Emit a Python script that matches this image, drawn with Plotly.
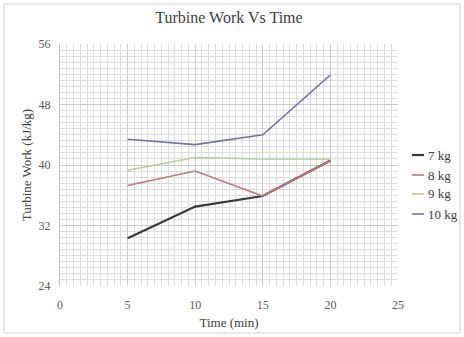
import plotly.graph_objects as go

# Time in minutes and turbine work (kJ/kg) for each load
time_min = [5, 10, 15, 20]
series_names = ["7 kg", "8 kg", "9 kg", "10 kg"]
work_7kg = [30.3, 34.5, 35.9, 40.6]
work_8kg = [37.3, 39.2, 35.9, 40.6]
work_9kg = [39.3, 41.0, 40.8, 40.8]
work_10kg = [43.4, 42.7, 44.0, 51.9]
series_values = [work_7kg, work_8kg, work_9kg, work_10kg]
series_colors = ["#3a3a3a", "#c0787a", "#b8d08e", "#7272a8"]
series_widths = [2.2, 1.6, 1.6, 1.6]

x_ticks = [0, 5, 10, 15, 20, 25]
y_ticks = [24, 32, 40, 48, 56]

SERIF = "Times New Roman, Liberation Serif, serif"

# plot area in pixels
W, H = 464, 337
L, R, T, B = 60, 398, 44, 286

fig = go.Figure()
for name, vals, col, w in zip(series_names, series_values, series_colors, series_widths):
    fig.add_trace(go.Scatter(x=time_min, y=vals, mode="lines", name=name,
                             line=dict(color=col, width=w), showlegend=False))

def px_to_paper(px, py):
    return (px - L) / (R - L), (B - py) / (B - T)

shapes = []
annotations = []

# outer chart border
x0, y0 = px_to_paper(4, 333)
x1, y1 = px_to_paper(460, 4)
shapes.append(dict(type="rect", xref="paper", yref="paper", x0=x0, y0=y0, x1=x1, y1=y1,
                   line=dict(color="#d0d0d0", width=1), layer="below"))

# legend entries
leg_y = [155, 175, 194, 214]
for name, col, w, ly in zip(series_names, series_colors, series_widths, leg_y):
    lx0, lyp = px_to_paper(412, ly)
    lx1, _ = px_to_paper(424, ly)
    shapes.append(dict(type="line", xref="paper", yref="paper", x0=lx0, x1=lx1, y0=lyp, y1=lyp,
                       line=dict(color=col, width=w)))
    tx, _ = px_to_paper(426, ly)
    annotations.append(dict(xref="paper", yref="paper", x=tx, y=lyp, text=name, showarrow=False,
                            xanchor="left", yanchor="middle",
                            font=dict(family=SERIF, size=13, color="#404040")))

fig.update_layout(
    width=W, height=H,
    margin=dict(l=L, r=W - R, t=T, b=H - B, autoexpand=False),
    paper_bgcolor="white", plot_bgcolor="white",
    title=dict(text="Turbine Work Vs Time", x=(L + R) / 2 / W, xanchor="center",
               y=1 - 17 / H, yanchor="middle",
               font=dict(family=SERIF, size=16, color="#404040")),
    font=dict(family=SERIF, color="#595959"),
    shapes=shapes, annotations=annotations,
)

fig.update_xaxes(range=[0, 25], tickvals=x_ticks, showgrid=True, gridcolor="#cccccc", gridwidth=1,
                 minor=dict(dtick=0.5, showgrid=True, gridcolor="#dcdcdc", gridwidth=1),
                 zeroline=False, showline=False, ticks="outside", ticklen=8, tickcolor="rgba(0,0,0,0)",
                 automargin=False,
                 tickfont=dict(family=SERIF, size=12, color="#595959"),
                 title=dict(text="Time (min)", standoff=6,
                            font=dict(family=SERIF, size=13, color="#404040")))
fig.update_yaxes(range=[24, 56], tickvals=y_ticks, showgrid=True, gridcolor="#cccccc", gridwidth=1,
                 minor=dict(dtick=0.8, showgrid=True, gridcolor="#dcdcdc", gridwidth=1),
                 zeroline=False, showline=True, linecolor="#bfbfbf", ticks="outside", ticklen=6,
                 tickcolor="rgba(0,0,0,0)", automargin=False,
                 tickfont=dict(family=SERIF, size=12, color="#595959"),
                 title=dict(text="Turbine Work (kJ/kg)", standoff=4,
                            font=dict(family=SERIF, size=13, color="#404040")))

fig.write_html("out.html")
